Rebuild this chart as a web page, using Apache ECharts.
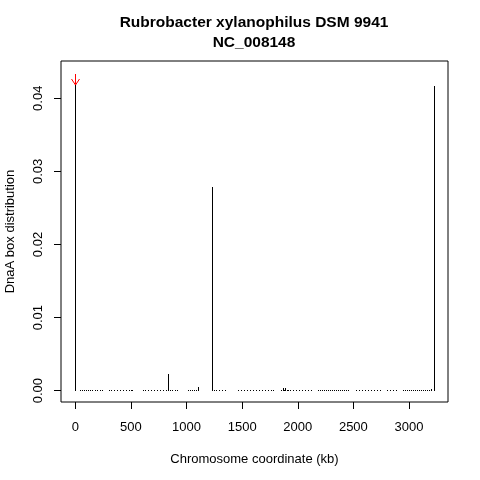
<!DOCTYPE html>
<html>
<head>
<meta charset="utf-8">
<script src="https://cdn.jsdelivr.net/npm/echarts@6/dist/echarts.min.js"></script>
<style>html,body{margin:0;padding:0;background:#fff}#c{width:480px;height:480px}</style>
</head>
<body>
<div id="c"></div>
<script>
const titleLines = ['Rubrobacter xylanophilus DSM 9941', 'NC_008148'];
const xTitle = 'Chromosome coordinate (kb)';
const yTitle = 'DnaA box distribution';
const xTicks = [0, 500, 1000, 1500, 2000, 2500, 3000];
const yTicks = [0, 0.01, 0.02, 0.03, 0.04];
const xRange = [-129, 3351];
const yRange = [-0.00155, 0.0451];

// chromosome coordinate (kb)
const positions = [
  0,
  45, 63, 81, 99, 117, 135, 153, 180, 198, 225, 240,
  300, 318, 345, 372, 399, 426, 453, 480, 498, 510,
  605, 623, 650, 677, 704, 731, 758, 785, 812, 830, 848, 866, 893, 914,
  1010, 1028, 1046, 1064, 1082, 1105,
  1230, 1250, 1268, 1295, 1322, 1349,
  1460, 1487, 1514, 1541, 1568, 1595, 1622, 1649,
  1676, 1703, 1730, 1757, 1776,
  1845, 1863, 1872, 1881, 1899, 1908, 1926,
  1960, 1987, 2014, 2041, 2068, 2095, 2122,
  2185, 2203, 2221, 2239, 2257, 2275, 2293, 2311, 2329, 2347, 2365, 2383, 2401, 2419, 2437, 2455,
  2520, 2547, 2574, 2601, 2628, 2655, 2682, 2709, 2736,
  2805, 2832, 2859, 2886,
  2950, 2968, 2986, 3004, 3022, 3040, 3058, 3076, 3094, 3112, 3130, 3148, 3166, 3184, 3202,
  3223
];
// DnaA box distribution
const values = [
  0.0418,
  0.00015, 0.0001, 0.00015, 0.0001, 0.00015, 0.0001, 0.00015, 0.0001, 0.00015, 0.0001, 0.00015,
  0.00015, 0.0001, 0.00015, 0.0001, 0.00015, 0.0001, 0.00015, 0.0001, 0.00015, 0.0001,
  0.00015, 0.0001, 0.00015, 0.0001, 0.00015, 0.0001, 0.00015, 0.0001, 0.00015, 0.0023, 0.0001, 0.00015, 0.0001, 0.00015,
  0.00015, 0.0001, 0.00015, 0.0001, 0.00015, 0.00055,
  0.0279, 0.00015, 0.0001, 0.00015, 0.0001, 0.00015,
  0.00015, 0.0001, 0.00015, 0.0001, 0.00015, 0.0001, 0.00015, 0.0001,
  0.00015, 0.0001, 0.00015, 0.0001, 0.00015,
  0.00015, 0.0003, 0.00015, 0.0003, 0.00015, 0.0001, 0.00015,
  0.0001, 0.00015, 0.0001, 0.00015, 0.0001, 0.00015, 0.0001,
  0.00015, 0.0001, 0.00015, 0.00015, 0.0001, 0.00015, 0.00015, 0.0001, 0.00015, 0.00015, 0.0001, 0.00015, 0.00015, 0.0001, 0.00015, 0.00015,
  0.00015, 0.0001, 0.00015, 0.0001, 0.00015, 0.0001, 0.00015, 0.0001, 0.00015,
  0.00015, 0.0001, 0.00015, 0.0001,
  0.00015, 0.0001, 0.00015, 0.00015, 0.0001, 0.00015, 0.00015, 0.0001, 0.00015, 0.00015, 0.0001, 0.00015, 0.00015, 0.0001, 0.0002,
  0.0417
];
// predicted origin arrow: [position, from value, to value]
const arrowData = [[0, 0.0433, 0.0418]];

const FONT = '"Liberation Sans", Arial, Helvetica, sans-serif';
const chart = echarts.init(document.getElementById('c'), null, {renderer: 'canvas'});
const crisp = v => Math.round(v) + 0.5;

chart.setOption({
  animation: false,
  backgroundColor: '#fff',
  title: {
    text: titleLines.join('\n'),
    left: 249, top: 8, textAlign: 'center',
    textStyle: {fontFamily: FONT, fontSize: 15.5, fontWeight: 'bold', color: '#000', lineHeight: 20}
  },
  grid: {left: 61, right: 32, top: 61, bottom: 78, show: true, borderColor: '#000', borderWidth: 1,
    backgroundColor: 'transparent', containLabel: false, outerBoundsMode: 'none'},
  xAxis: {
    type: 'value', min: xRange[0], max: xRange[1],
    splitLine: {show: false}, axisLine: {show: false, onZero: false},
    axisTick: {show: true, inside: false, length: 7, lineStyle: {color: '#000'}, customValues: xTicks},
    axisLabel: {customValues: xTicks, margin: 19, fontFamily: FONT, fontSize: 13, color: '#000',
      formatter: v => String(v)},
    name: xTitle, nameLocation: 'middle', nameGap: 51,
    nameTextStyle: {fontFamily: FONT, fontSize: 13, color: '#000'}
  },
  yAxis: {
    type: 'value', min: yRange[0], max: yRange[1],
    splitLine: {show: false}, axisLine: {show: false, onZero: false},
    axisTick: {show: true, inside: false, length: 7, lineStyle: {color: '#000'}, customValues: yTicks},
    axisLabel: {customValues: yTicks, rotate: 90, margin: 16, fontFamily: FONT, fontSize: 13, color: '#000',
      formatter: v => v.toFixed(2)},
    name: yTitle, nameLocation: 'middle', nameGap: 44, nameRotate: 90,
    nameTextStyle: {fontFamily: FONT, fontSize: 13, color: '#000'}
  },
  series: [
    {
      type: 'custom',
      data: positions.map((p, i) => [p, values[i]]),
      renderItem: (params, api) => {
        const p0 = api.coord([api.value(0), 0]);
        const p1 = api.coord([api.value(0), api.value(1)]);
        const x = crisp(p0[0]);
        let y0 = Math.round(p0[1]);
        let y1 = Math.round(p1[1]);
        if (y1 >= y0) y1 = y0 - 1;
        return {type: 'line', shape: {x1: x, y1: y0, x2: x, y2: y1}, style: {stroke: '#000', lineWidth: 1}};
      }
    },
    {
      type: 'custom',
      data: arrowData,
      renderItem: (params, api) => {
        const top = api.coord([api.value(0), api.value(1)]);
        const tip = api.coord([api.value(0), api.value(2)]);
        const x = crisp(tip[0]);
        const ty = Math.round(tip[1]);
        const st = {stroke: '#ff0000', lineWidth: 1};
        return {
          type: 'group',
          children: [
            {type: 'line', shape: {x1: x, y1: Math.round(top[1]), x2: x, y2: ty}, style: st},
            {type: 'line', shape: {x1: x - 4, y1: ty - 6, x2: x, y2: ty}, style: st},
            {type: 'line', shape: {x1: x + 4, y1: ty - 6, x2: x, y2: ty}, style: st}
          ]
        };
      }
    }
  ]
});
</script>
</body>
</html>
